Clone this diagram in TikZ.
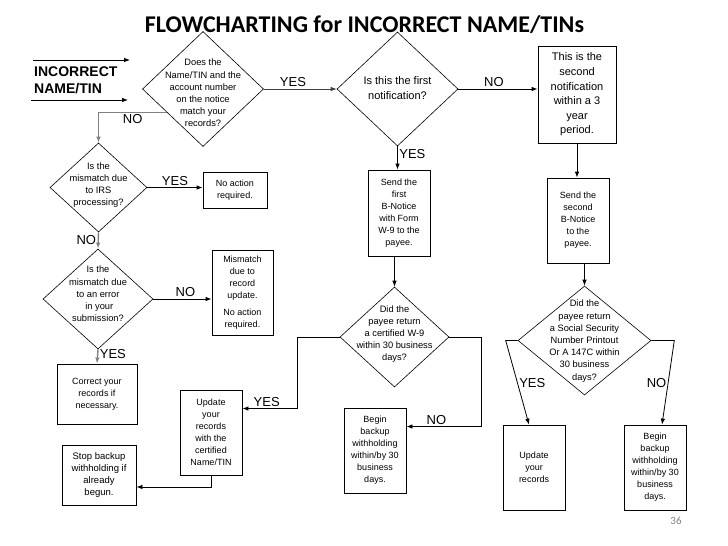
\documentclass[tikz,border=0pt]{standalone}
\usepackage{fontspec}
\setmainfont{Liberation Sans}
\newfontfamily\calibri{Carlito}
\usetikzlibrary{arrows.meta,shapes.geometric}

\tikzset{
  box/.style={draw,line width=0.8pt,align=center,inner sep=1pt,
    font=\fontsize{9}{12}\selectfont},
  dia/.style={diamond,draw,line width=0.6pt,inner sep=0pt},
  dtext/.style={align=center,inner sep=0pt,font=\fontsize{9.3}{12.2}\selectfont},
  lab/.style={inner sep=1.5pt,font=\fontsize{13}{13}\selectfont},
  arr/.style={line width=0.8pt,-{Latex[length=6pt,width=4.5pt]}},
  garr/.style={arr,draw=gray,line width=1.4pt},
}

\begin{document}
\begin{tikzpicture}[x=1pt,y=-1pt]
\useasboundingbox (0,0) rectangle (728,546);

% title and page number
\node[font=\calibri\bfseries\fontsize{24}{24}\selectfont] (title) at (364.5,25) {FLOWCHARTING for INCORRECT NAME/TINs};
\node[font=\calibri\fontsize{11}{11}\selectfont,text=gray] (page) at (676,521) {36};

% input
\node[align=left,anchor=west,inner sep=0pt,font=\bfseries\fontsize{14}{17}\selectfont] (input) at (34,80.5) {INCORRECT\\NAME/TIN};
\coordinate (inA) at (33,60);
\coordinate (inAend) at (130,60);
\coordinate (inB) at (31,100);
\coordinate (inBend) at (128,100);
\draw[arr] (inA) -- (inAend);
\draw[arr] (inB) -- (inBend);

% left column
\node[dia,minimum width=121pt,minimum height=115pt] (match) at (203,89) {};
\node[dtext] at (203,93) {Does the\\Name/TIN and the\\account number\\on the notice\\match your\\records?};
\node[dia,minimum width=97pt,minimum height=89pt] (irs) at (98.5,187.5) {};
\node[dtext] at (98.5,185) {Is the\\mismatch due\\to IRS\\processing?};
\node[box,minimum width=64pt,minimum height=36pt] (noact) at (235,190) {No action\\required.};
\node[dia,minimum width=110pt,minimum height=100pt] (err) at (98,299) {};
\node[dtext] at (98,294) {Is the\\mismatch due\\to an error\\\ in your\\submission?};
\node[box,minimum width=61pt,minimum height=85pt] (mism) at (242.5,292.5) {Mismatch\\due to\\record\\update.\\[5pt]No action\\required.};
\node[box,minimum width=80pt,minimum height=60pt] (corr) at (97,394) {Correct your\\records if\\necessary.};
\node[box,minimum width=62pt,minimum height=85pt] (upd1) at (211,432.5) {Update\\your\\records\\with the\\certified\\Name/TIN};
\node[box,minimum width=74pt,minimum height=60pt,font=\fontsize{9.5}{12.3}\selectfont] (stop) at (99,475) {Stop backup\\withholding if\\already\\begun.};

% middle column
\node[dia,minimum width=121pt,minimum height=114pt] (first) at (397.5,89) {};
\node[dtext,font=\fontsize{11}{15}\selectfont] at (397.5,88) {Is this the first\\notification?};
\node[box,minimum width=62pt,minimum height=86pt] (send1) at (399,213) {Send the\\first\\B-Notice\\with Form\\W-9 to the\\payee.};
\node[dia,minimum width=109pt,minimum height=100pt] (w9) at (394.5,337) {};
\node[dtext] at (394.5,334) {Did the\\payee return\\a certified W-9\\within 30 business\\days?};
\node[box,minimum width=62pt,minimum height=85pt] (begin1) at (375,450.5) {Begin\\backup\\withholding\\within/by 30\\business\\days.};

% right column
\node[box,minimum width=78pt,minimum height=97pt,font=\fontsize{11}{14.6}\selectfont] (second) at (577,94.5) {This is the\\second\\notification\\within a 3\\year\\period.};
\node[box,minimum width=62pt,minimum height=85pt] (send2) at (578,220.5) {Send the\\second\\B-Notice\\to the\\payee.};
\node[dia,minimum width=133pt,minimum height=109pt] (ssn) at (584.5,340.5) {};
\node[dtext] at (584.5,341) {Did the\\payee return\\a Social Security\\Number Printout\\Or A 147C within\\30 business\\days?};
\node[box,minimum width=62pt,minimum height=85pt] (upd2) at (534,467.5) {Update\\your\\records};
\node[box,minimum width=62pt,minimum height=85pt] (begin2) at (655,467.5) {Begin\\backup\\withholding\\within/by 30\\business\\days.};

% connectors
\draw[arr,draw=darkgray] (match.east) -- node[lab,above,pos=0.4] {YES} (first.west);
\draw[garr] (match.213) -| node[lab,below,pos=0.25] {NO} (irs.north);
\draw[arr] (irs.east) -- node[lab,above] {YES} (irs.east -| noact.west);
\draw[garr] (irs.south) -- node[lab,left,pos=0.45] {NO} (err.north);
\draw[arr] (err.east) -- node[lab,above,pos=0.55] {NO} (err.east -| mism.west);
\draw[garr] (err.south) -- node[lab,right,pos=0.3] {YES} (corr.north);
\draw[arr] (first.east) -- node[lab,above,pos=0.45] {NO} (first.east -| second.west);
\draw[arr] (first.south) -- node[lab,right,pos=0.35] {YES} (first.south |- send1.north);
\draw[arr] (send1.south -| w9.north) -- (w9.north);
\draw[arr] (w9.west) -- ++(-42,0) |- node[lab,above,pos=0.78] {YES} ([yshift=24pt]upd1.east);
\draw[arr] (w9.east) -- ++(32,0) |- node[lab,above,pos=0.8] {NO} ([yshift=24pt]begin1.east);
\draw[arr] (upd1.south) |- ([yshift=-12pt]stop.east);
\draw[arr] (second.south) -- (second.south |- send2.north);
\draw[arr] (send2.south -| ssn.north) -- (ssn.north);
\draw[arr] (ssn.west) -- ++(-12,0) -- node[lab,right,pos=0.5] {YES} ([xshift=-5pt]upd2.north);
\draw[arr] (ssn.east) -- ++(23,0) -- node[lab,left,pos=0.5] {NO} ([xshift=7pt]begin2.north);
\end{tikzpicture}
\end{document}
